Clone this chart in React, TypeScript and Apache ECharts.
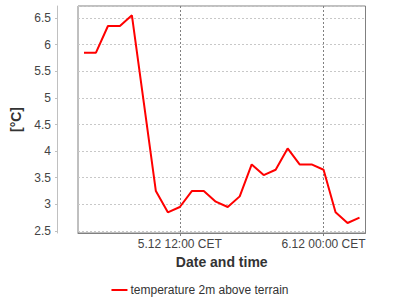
import React, { useEffect, useRef } from "react";
import * as echarts from "echarts";

// hours counted from 5.12 00:00 CET
const hours = [4, 5, 6, 7, 8, 9, 10, 11, 12, 13, 14, 15, 16, 17, 18, 19, 20, 21, 22, 23, 24, 25, 26, 27];
const temps = [5.85, 5.85, 6.35, 6.35, 6.55, 4.9, 3.25, 2.85, 2.95, 3.25, 3.25, 3.05, 2.95, 3.15, 3.75, 3.55, 3.65, 4.05, 3.75, 3.75, 3.65, 2.85, 2.65, 2.75];
const tickHours = [12, 24];
const tickLabels = ["5.12 12:00 CET", "6.12 00:00 CET"];
const seriesName = "temperature 2m above terrain";
const xTitle = "Date and time";
const yTitle = "[°C]";

const FONT = "'Liberation Sans', Arial, sans-serif";

export default function App() {
  const ref = useRef<HTMLDivElement>(null);
  useEffect(() => {
    const chart = echarts.init(ref.current!, null, { renderer: "svg" });
    chart.setOption({
      animation: false,
      textStyle: { fontFamily: FONT },
      grid: {
        left: 78,
        right: 34.5,
        top: 6,
        bottom: 67,
        show: true,
        borderColor: "#808080",
        borderWidth: 1,
        backgroundColor: "#ffffff",
        containLabel: false,
        outerBoundsMode: "none",
      },
      legend: {
        show: true,
        left: "center",
        top: 279,
        icon: "rect",
        itemWidth: 16,
        itemHeight: 2,
        itemGap: 10,
        textStyle: { fontFamily: FONT, fontSize: 12, color: "#333333", padding: [0, 0, 0, -2] },
        data: [{ name: seriesName }],
      },
      xAxis: {
        type: "value",
        min: 3.5,
        max: 27.5,
        name: xTitle,
        nameLocation: "middle",
        nameGap: 22,
        nameTextStyle: { fontFamily: FONT, fontSize: 14, fontWeight: "bold", color: "#333333" },
        axisLine: { show: true, lineStyle: { color: "#808080", width: 1 } },
        axisTick: { show: true, length: 3, customValues: tickHours, lineStyle: { color: "#808080" } },
        axisLabel: {
          show: true,
          customValues: tickHours,
          margin: 5,
          fontFamily: FONT,
          fontSize: 12,
          color: "#444444",
          formatter: (v: number) => {
            const i = tickHours.indexOf(Math.round(v));
            return i >= 0 ? tickLabels[i] : "";
          },
        },
        splitLine: {
          show: true,
          lineStyle: { color: "#808080", width: 1, type: [2, 2] },
        },
      },
      yAxis: {
        type: "value",
        min: 2.462,
        max: 6.726,
        splitNumber: 8,
        minInterval: 0.5,
        maxInterval: 0.5,
        offset: 21,
        name: yTitle,
        nameLocation: "middle",
        nameGap: 26,
        nameTextStyle: { fontFamily: FONT, fontSize: 14, fontWeight: "bold", color: "#333333" },
        axisLine: { show: true, lineStyle: { color: "#c0c0c0", width: 1 } },
        axisTick: { show: true, length: 2, lineStyle: { color: "#c0c0c0" } },
        axisLabel: {
          show: true,
          showMinLabel: false,
          showMaxLabel: false,
          margin: 6,
          fontFamily: FONT,
          fontSize: 12,
          color: "#444444",
        },
        splitLine: {
          show: true,
          lineStyle: { color: "#c8c8c8", width: 1, type: [2, 2] },
        },
      },
      series: [
        {
          name: seriesName,
          type: "line",
          data: hours.map((h, i) => [h, temps[i]]),
          symbol: "none",
          showSymbol: false,
          lineStyle: { color: "#ff0000", width: 2 },
          itemStyle: { color: "#ff0000" },
        },
      ],
    });
    return () => chart.dispose();
  }, []);
  return <div ref={ref} style={{ position: "absolute", left: 0, top: 0, width: 400, height: 300 }} />;
}
